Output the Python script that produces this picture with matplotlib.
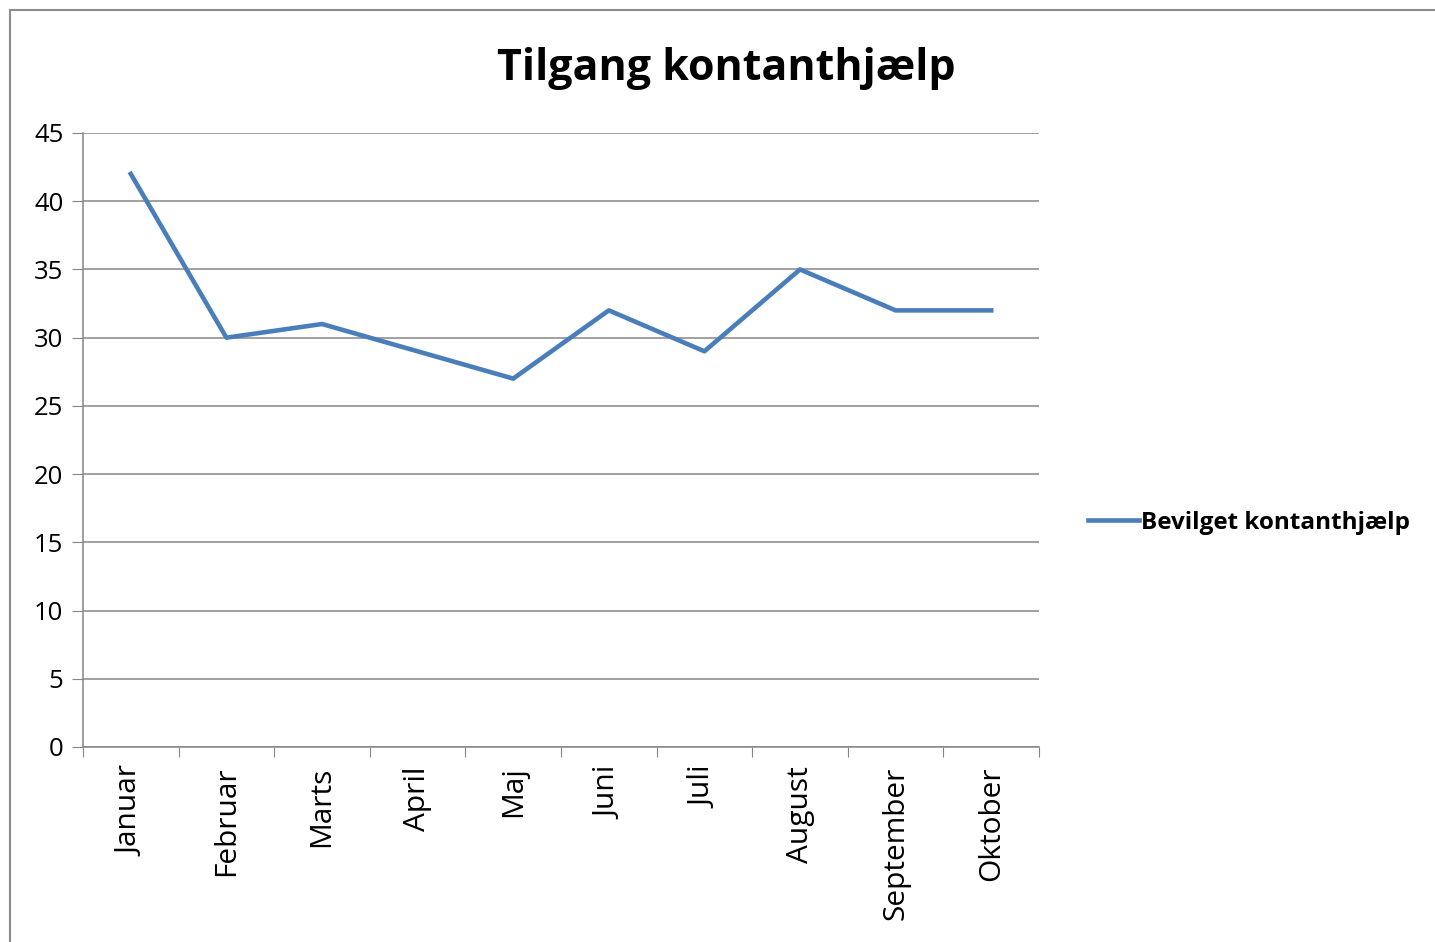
import numpy as np
import matplotlib
matplotlib.use("Agg")
import matplotlib.pyplot as plt
from matplotlib.patches import Rectangle

# data
months = ["Januar", "Februar", "Marts", "April", "Maj", "Juni", "Juli",
          "August", "September", "Oktober"]
bevilget = [42, 30, 31, 29, 27, 32, 29, 35, 32, 32]

plt.rcParams['font.family'] = ['Open Sans', 'DejaVu Sans']

fig = plt.figure(figsize=(14.35, 9.42), dpi=100)
# outer chart frame
fig.patches.append(Rectangle((10 / 1435, -0.05), 1.1, 1 - 10 / 942 + 0.05,
                             transform=fig.transFigure, fill=False,
                             edgecolor='#8c8c8c', linewidth=1.5))

ax = fig.add_axes([83 / 1435, 1 - 747 / 942, (1039 - 83) / 1435, (747 - 133) / 942])

x = np.arange(len(months)) + 0.5
ax.plot(x, bevilget, color='#4a7ebb', linewidth=3.3, label='Bevilget kontanthjælp')

ax.set_xlim(0, len(months))
ax.set_ylim(0, 45)
ax.set_yticks(np.arange(0, 46, 5))
ax.yaxis.grid(True, color='#868686', linewidth=1.1)
ax.set_axisbelow(True)

ax.set_xticks(np.arange(0, len(months) + 1))
ax.set_xticklabels([])
ax.set_xticks(x, minor=True)
ax.set_xticklabels(months, minor=True, rotation=90, fontsize=21.5)
ax.tick_params(axis='x', which='minor', length=0, pad=14)
ax.tick_params(axis='x', which='major', length=7, color='#868686', direction='out')
ax.tick_params(axis='y', length=8, color='#868686', labelsize=18.5, pad=6)

for s in ['top', 'right']:
    ax.spines[s].set_visible(False)
for s in ['left', 'bottom']:
    ax.spines[s].set_color('#868686')
    ax.spines[s].set_linewidth(1.1)

fig.text(726 / 1435, 1 - 68 / 942, 'Tilgang kontanthjælp', ha='center', va='center',
         fontsize=31, fontweight='bold')

leg = ax.legend(loc='center left', bbox_to_anchor=(1.028, 0.365), frameon=False,
                prop={'size': 17.5, 'weight': 'bold'}, handlelength=2.1, handletextpad=0.1)

fig.savefig('out.png', dpi=100, facecolor='white')
